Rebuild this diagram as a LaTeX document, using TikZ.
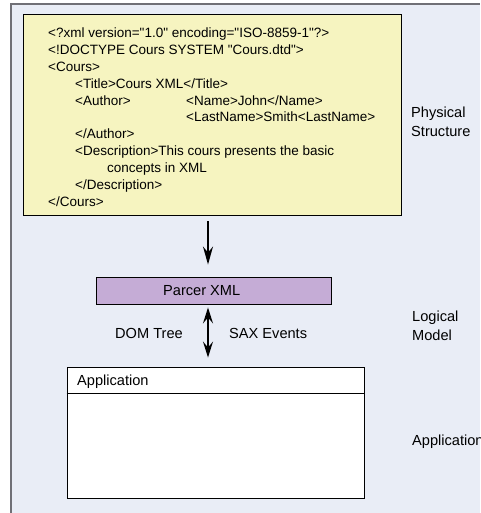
\documentclass[tikz,border=0pt]{standalone}
\usepackage{fontspec}
\setmainfont{Liberation Sans}
\newfontfamily\xmlfont{Liberation Sans}
\usetikzlibrary{arrows.meta}
\definecolor{bgblue}{RGB}{233,237,246}
\definecolor{xmlyellow}{RGB}{246,244,192}
\definecolor{parserpurple}{RGB}{197,172,214}
\definecolor{framegrey}{RGB}{112,112,118}
\tikzset{
  xmltext/.style={anchor=base west, inner sep=0pt, font=\xmlfont\fontsize{13.5}{16}\selectfont},
  lbl/.style={anchor=base west, inner sep=0pt, font=\fontsize{14.6}{18}\selectfont},
  box/.style={draw=black, line width=0.9pt},
  arr/.style={line width=1.8pt, -{Stealth[length=18pt,width=10pt,inset=6pt]}},
  darr/.style={line width=1.8pt, {Stealth[length=16pt,width=10pt,inset=6pt]}-{Stealth[length=16pt,width=10pt,inset=6pt]}},
}
\begin{document}
\begin{tikzpicture}[x=1pt,y=-1pt]
\useasboundingbox (0,0) rectangle (480,513);
% background and frame
\fill[bgblue] (11,4) rectangle (480,513);
\draw[framegrey, line width=2pt] (11,513) -- (11,4) -- (480,4);
% physical structure box
\node[box, fill=xmlyellow, minimum width=378pt, minimum height=201pt, inner sep=0pt] (xml) at (212,114.5) {};
\node[xmltext] (l1) at (48,38) {<?xml version="1.0" encoding="ISO-8859-1"?>};
\node[xmltext] (l2) at (48,54.8) {<!DOCTYPE Cours SYSTEM "Cours.dtd">};
\node[xmltext] (l3) at (48,71.6) {<Cours>};
\node[xmltext] (l4) at (75,88.4) {<Title>Cours XML</Title>};
\node[xmltext] (l5) at (75,105.2) {<Author>};
\node[xmltext] (l5b) at (186,105.2) {<Name>John</Name>};
\node[xmltext] (l6) at (186,122) {<LastName>Smith<LastName>};
\node[xmltext] (l7) at (75,138.8) {</Author>};
\node[xmltext] (l8) at (75,155.6) {<Description>This cours presents the basic};
\node[xmltext] (l9) at (107,172.4) {concepts in XML};
\node[xmltext] (l10) at (75,189.2) {</Description>};
\node[xmltext] (l11) at (48,206) {</Cours>};
% parser
\node[box, fill=parserpurple, minimum width=235pt, minimum height=27pt, inner sep=0pt] (parser) at (213.5,290.5) {};
\node[lbl] (ptext) at (163,295.5) {Parcer XML};
% application
\node[box, fill=white, minimum width=297pt, minimum height=131pt, inner sep=0pt] (app) at (215.5,432.5) {};
\draw[black, line width=0.9pt] (app.west |- 0,393) -- (app.east |- 0,393);
\node[lbl] (apptext) at (77,385) {Application};
% connectors
\coordinate (ax) at (208,0);
\draw[arr, shorten <=6pt, shorten >=12pt] (xml.south -| ax) -- (parser.north -| ax);
\draw[darr, shorten <=3pt, shorten >=9pt] (parser.south -| ax) -- (app.north -| ax);
\node[lbl] (dom) at (115,338) {DOM Tree};
\node[lbl] (sax) at (229,338) {SAX Events};
% right labels
\node[lbl] (phys1) at (411,118) {Physical};
\node[lbl] (phys2) at (411,137) {Structure};
\node[lbl] (log1) at (412,321) {Logical};
\node[lbl] (log2) at (412,340) {Model};
\node[lbl] (applbl) at (412,445) {Application};
\end{tikzpicture}
\end{document}
